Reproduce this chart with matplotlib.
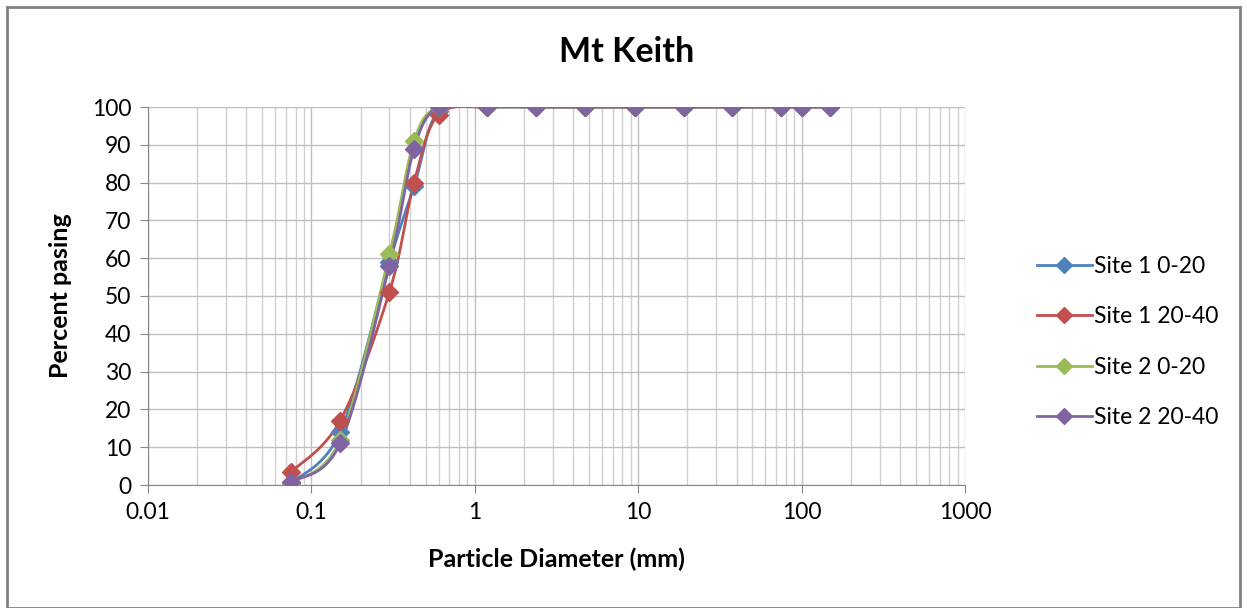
import numpy as np
import matplotlib.pyplot as plt
from matplotlib.patches import Rectangle
from matplotlib.lines import Line2D

plt.rcParams['font.family'] = ['Lato', 'DejaVu Sans']

# sieve sizes (mm)
sizes = [0.075, 0.15, 0.3, 0.425, 0.6, 1.18, 2.36, 4.75, 9.5, 19, 37.5, 75, 100, 150]

site1_0_20 = [0.5, 14, 59, 79, 99, 100, 100, 100, 100, 100, 100, 100, 100, 100]
site1_20_40 = [3.4, 17, 51, 80, 98, 100, 100, 100, 100, 100, 100, 100, 100, 100]
site2_0_20 = [0.5, 12, 61, 91, 100, 100, 100, 100, 100, 100, 100, 100, 100, 100]
site2_20_40 = [0.8, 11, 58, 89, 100, 100, 100, 100, 100, 100, 100, 100, 100, 100]

labels = ['Site 1 0-20', 'Site 1 20-40', 'Site 2 0-20', 'Site 2 20-40']
colors = ['#4F81BD', '#C0504D', '#9BBB59', '#8064A2']
series = [site1_0_20, site1_20_40, site2_0_20, site2_20_40]


def smooth(xs, ys, n=30):
    # Excel style smoothed line: bezier through points, in log-x space
    px = np.log10(xs)
    py = np.array(ys, dtype=float)
    P = np.column_stack([px, py])
    out = []
    for i in range(len(P) - 1):
        p0 = P[i - 1] if i > 0 else P[i]
        p1 = P[i]
        p2 = P[i + 1]
        p3 = P[i + 2] if i + 2 < len(P) else P[i + 1]
        c1 = p1 + (p2 - p0) / 6
        c2 = p2 - (p3 - p1) / 6
        t = np.linspace(0, 1, n)[:, None]
        b = (1 - t) ** 3 * p1 + 3 * (1 - t) ** 2 * t * c1 + 3 * (1 - t) * t ** 2 * c2 + t ** 3 * p2
        out.append(b)
    b = np.vstack(out)
    return 10 ** b[:, 0], b[:, 1]


fig = plt.figure(figsize=(12.47, 6.08), dpi=100)
ax = fig.add_axes([148 / 1247, 1 - 485 / 608, (965 - 148) / 1247, (485 - 107) / 608])

for ys, c, lab in zip(series, colors, labels):
    sx, sy = smooth(sizes, ys)
    ax.plot(sx, sy, color=c, lw=2, zorder=3)
    ax.plot(sizes, ys, ls='none', marker='D', ms=9.5, color=c, zorder=4)

ax.set_xscale('log')
ax.set_xlim(0.01, 1000)
ax.set_ylim(0, 100)
ax.set_yticks(range(0, 101, 10))
ax.set_xticks([0.01, 0.1, 1, 10, 100, 1000])
ax.set_xticklabels(['0.01', '0.1', '1', '10', '100', '1000'])
ax.grid(True, which='major', color='#BFBFBF', lw=1, zorder=0)
ax.grid(True, which='minor', axis='x', color='#D0D0D0', lw=1, zorder=0)
for s in ['top', 'right']:
    ax.spines[s].set_visible(False)
ax.spines['left'].set_color('#868686')
ax.spines['bottom'].set_color('#868686')
ax.tick_params(which='major', length=6, color='#868686', labelsize=16.5, pad=6)
ax.tick_params(which='minor', length=0)
ax.set_xlabel('Particle Diameter (mm)', fontsize=18, fontweight='bold', labelpad=18)
ax.set_ylabel('Percent pasing', fontsize=18, fontweight='bold', labelpad=14)
fig.text(627 / 1247, 1 - 52 / 608, 'Mt Keith', fontsize=24.5, fontweight='bold',
         ha='center', va='center')

handles = [Line2D([], [], color=c, lw=2, marker='D', ms=8) for c in colors]
fig.legend(handles, labels, loc='center left', bbox_to_anchor=(1016 / 1247, 1 - 342 / 608),
           frameon=False, fontsize=16.5, handlelength=2.4, labelspacing=1.27, handletextpad=0.1)

fig.add_artist(Rectangle((7 / 1247, 0), 1233 / 1247, 1 - 7 / 608, transform=fig.transFigure,
                         fill=False, ec='#808080', lw=2))

fig.savefig('out.png', dpi=100)
